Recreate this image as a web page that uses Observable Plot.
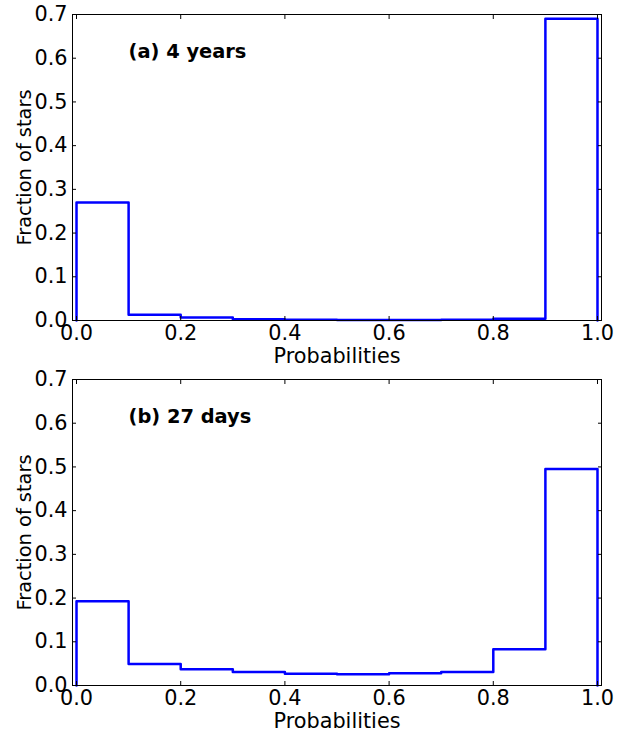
<!DOCTYPE html>
<html>
<head>
<meta charset="utf-8">
<script src="https://cdn.jsdelivr.net/npm/d3@7"></script>
<script src="https://cdn.jsdelivr.net/npm/@observablehq/plot@0.6"></script>
<style>
  body { margin: 0; background: #fff; }
  #chart svg { display: block; }
</style>
</head>
<body>
<div id="chart"></div>
<script>
// Histogram bins (left edges, width 0.1) and fraction of stars in each bin
const binEdges = [0.0, 0.1, 0.2, 0.3, 0.4, 0.5, 0.6, 0.7, 0.8, 0.9];
const binWidth = 0.1;
const fourYears = [0.270, 0.013, 0.007, 0.003, 0.002, 0.001, 0.001, 0.002, 0.004, 0.690];
const twentySevenDays = [0.193, 0.049, 0.037, 0.031, 0.027, 0.026, 0.028, 0.031, 0.083, 0.495];
const xTicks = [0.0, 0.2, 0.4, 0.6, 0.8, 1.0];
const yTicks = [0.0, 0.1, 0.2, 0.3, 0.4, 0.5, 0.6, 0.7];
const panelLabels = ["(a) 4 years", "(b) 27 days"];
const xLabel = "Probabilities";
const yLabel = "Fraction of stars";

const font = "DejaVu Sans";
const fs = 20.8;
const fmt = d3.format(".1f");

// Outline of an unfilled step histogram: up from zero, across each bin, back down at the end
function stepPoints(values) {
  const pts = [{x: binEdges[0], y: 0}];
  values.forEach((v, i) => pts.push({x: binEdges[i], y: v}));
  const end = binEdges[binEdges.length - 1] + binWidth;
  pts.push({x: end, y: values[values.length - 1]});
  pts.push({x: end, y: 0});
  return pts;
}

function panel(values, label, marginTop, marginBottom) {
  return Plot.plot({
    width: 630,
    height: marginTop + 306 + marginBottom,
    marginLeft: 72,
    marginRight: 29,
    marginTop,
    marginBottom,
    style: {fontFamily: font, fontSize: fs + "px", color: "#000", background: "#fff"},
    x: {domain: [-0.0077, 1.0077]},
    y: {domain: [0, 0.7]},
    marks: [
      Plot.line(stepPoints(values), {x: "x", y: "y", curve: "step-after", stroke: "#0000ff", strokeWidth: 2.5}),
      Plot.frame({stroke: "#000", strokeWidth: 1}),
      Plot.axisX({ticks: xTicks, anchor: "bottom", tickSize: -4, tickPadding: 9, tickFormat: fmt, label: null, fontSize: fs, stroke: "#000"}),
      Plot.axisX({ticks: xTicks, anchor: "top", tickSize: -4, tickFormat: () => "", label: null, stroke: "#000"}),
      Plot.axisY({ticks: yTicks, anchor: "left", tickSize: -4, tickPadding: 9, tickFormat: fmt, label: null, fontSize: fs, stroke: "#000"}),
      Plot.axisY({ticks: yTicks, anchor: "right", tickSize: -4, tickFormat: () => "", label: null, stroke: "#000"}),
      Plot.text([xLabel], {frameAnchor: "bottom", dy: 36, lineAnchor: "middle", textAnchor: "middle", text: d => d, fontSize: fs, fill: "#000"}),
      Plot.text([yLabel], {frameAnchor: "left", dx: -48, rotate: -90, lineAnchor: "middle", textAnchor: "middle", text: d => d, fontSize: 19.4, fill: "#000"}),
      Plot.text([label], {x: () => 0.1, y: () => 0.6, text: d => d, textAnchor: "start", lineAnchor: "bottom", fontWeight: "bold", fontSize: 19.4, fill: "#000"})
    ]
  });
}

const root = document.getElementById("chart");
root.appendChild(panel(fourYears, panelLabels[0], 14, 47));
root.appendChild(panel(twentySevenDays, panelLabels[1], 12, 48));
</script>
</body>
</html>
